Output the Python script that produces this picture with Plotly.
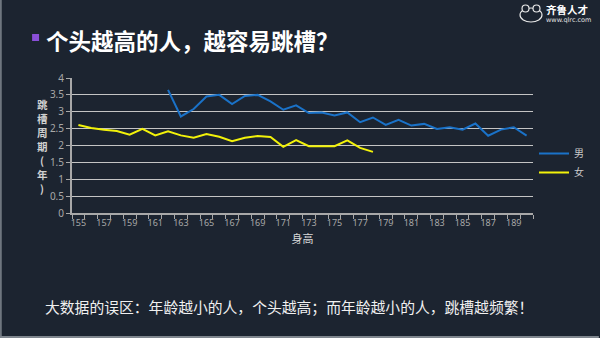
import plotly.graph_objects as go

# ---- data ----
heights = list(range(155, 191))
male = [None, None, None, None, None, None, None,
        3.65, 2.86, 3.08, 3.45, 3.50, 3.23, 3.47, 3.50, 3.31, 3.06, 3.19,
        2.96, 2.98, 2.89, 2.98, 2.69, 2.83, 2.61, 2.76, 2.59, 2.64, 2.49,
        2.54, 2.47, 2.65, 2.29, 2.47, 2.54, 2.29]
female = [2.61, 2.52, 2.47, 2.43, 2.32, 2.49, 2.30, 2.42, 2.30, 2.23, 2.34,
          2.26, 2.13, 2.23, 2.28, 2.25, 1.96, 2.16, 1.98, 1.98, 1.98, 2.15,
          1.93, 1.81]
female_heights = heights[:len(female)]
x_tick_vals = list(range(155, 190, 2))
y_tick_vals = [0, 0.5, 1, 1.5, 2, 2.5, 3, 3.5, 4]
y_tick_text = ["0", "0.5", "1", "1.5", "2", "2.5", "3", "3.5", "4"]

title_text = "个头越高的人，越容易跳槽？"
footer_text = "大数据的误区：年龄越小的人，个头越高；而年龄越小的人，跳槽越频繁！"
y_title_chars = ["跳", "槽", "周", "期", "(", "年", ")"]

# ---- layout geometry (pixels) ----
W, H = 600, 338
L, R, T, B = 72, 66, 78, 125
PW = W - L - R
PH = H - T - B
BG = "#1c2430"
CJK = "Noto Sans CJK SC"


def px(x):
    return (x - L) / PW


def py(y):
    return (H - B - y) / PH


fig = go.Figure()
fig.add_trace(go.Scatter(x=heights, y=male, mode="lines", name="男",
                         line=dict(color="#1a72c8", width=2)))
fig.add_trace(go.Scatter(x=female_heights, y=female, mode="lines", name="女",
                         line=dict(color="#f2f20a", width=2)))

fig.update_layout(
    width=W, height=H,
    margin=dict(l=L, r=R, t=T, b=B, pad=0),
    paper_bgcolor=BG, plot_bgcolor=BG,
    font=dict(family=CJK, color="#b4b4b4", size=10),
    showlegend=True,
    legend=dict(x=px(534), y=py(139), xanchor="left", yanchor="top",
                bgcolor="rgba(0,0,0,0)", font=dict(size=10, color="#c8c8c8", family=CJK),
                tracegroupgap=0, itemwidth=30),
    xaxis=dict(range=[154.5, 190.5], tickmode="array", tickvals=x_tick_vals,
               ticks="", showgrid=False, zeroline=False,
               showline=True, linecolor="#a8a8a8", linewidth=2,
               tickfont=dict(family="Noto Sans", size=9, color="#a8a8a8"),
               minor=dict(tick0=154.5, dtick=1, ticks="outside", ticklen=4,
                          tickcolor="#a8a8a8", tickwidth=1, showgrid=False),
               title=dict(text="身高", font=dict(size=11, color="#d8d8d8", family=CJK),
                          standoff=8),
               fixedrange=True),
    yaxis=dict(range=[0, 4], tickmode="array", tickvals=y_tick_vals, ticktext=y_tick_text,
               ticks="outside", ticklen=4, tickcolor="#a8a8a8",
               showgrid=True, gridcolor="#c4c4c4", gridwidth=1, zeroline=False,
               showline=True, linecolor="#a8a8a8", linewidth=2,
               tickfont=dict(family="Noto Sans", size=10, color="#a8a8a8"),
               fixedrange=True),
)

annotations = [
    dict(text="<b>" + title_text + "</b>", x=px(44), y=py(40), xref="paper", yref="paper",
         xanchor="left", yanchor="middle", showarrow=False,
         font=dict(size=22.5, color="#ffffff", family=CJK)),
    dict(text=footer_text, x=px(43), y=py(306), xref="paper", yref="paper",
         xanchor="left", yanchor="middle", showarrow=False,
         font=dict(size=14.8, color="#f0f0f0", family=CJK)),
    dict(text="<b>齐鲁人才</b>", x=px(545), y=py(9), xref="paper", yref="paper",
         xanchor="left", yanchor="middle", showarrow=False,
         font=dict(size=10.5, color="#ffffff", family=CJK)),
    dict(text="www.qlrc.com", x=px(545), y=py(20), xref="paper", yref="paper",
         xanchor="left", yanchor="middle", showarrow=False,
         font=dict(size=6.5, color="#e0e0e0", family="DejaVu Sans")),
]
for i, ch in enumerate(y_title_chars):
    annotations.append(dict(text="<b>" + ch + "</b>", x=px(42), y=py(104 + i * 14),
                            xref="paper", yref="paper", xanchor="center", yanchor="middle",
                            showarrow=False, borderpad=0,
                            font=dict(size=10.5, color="#d0d0d0", family=CJK)))
fig.update_layout(annotations=annotations)

shapes = [
    # purple bullet
    dict(type="rect", xref="paper", yref="paper", x0=px(32), x1=px(39), y0=py(34), y1=py(41),
         fillcolor="#8a4fd8", line=dict(width=0)),
    # slide borders
    dict(type="rect", xref="paper", yref="paper", x0=px(0), x1=px(1.5), y0=py(0), y1=py(338),
         fillcolor="#7f868e", line=dict(width=0)),
    dict(type="rect", xref="paper", yref="paper", x0=px(0), x1=px(600), y0=py(336), y1=py(338),
         fillcolor="#7f868e", line=dict(width=0)),
    # logo frog
    dict(type="circle", xref="paper", yref="paper", x0=px(521), x1=px(543), y0=py(8), y1=py(22),
         line=dict(color="#e8e8e8", width=1.2), fillcolor="rgba(0,0,0,0)"),
    dict(type="circle", xref="paper", yref="paper", x0=px(523), x1=px(530), y0=py(5), y1=py(12),
         line=dict(color="#e8e8e8", width=1.2), fillcolor=BG),
    dict(type="circle", xref="paper", yref="paper", x0=px(534), x1=px(541), y0=py(5), y1=py(12),
         line=dict(color="#e8e8e8", width=1.2), fillcolor=BG),
]
fig.update_layout(shapes=shapes)

fig.write_html("out.html", config={"displayModeBar": False})
